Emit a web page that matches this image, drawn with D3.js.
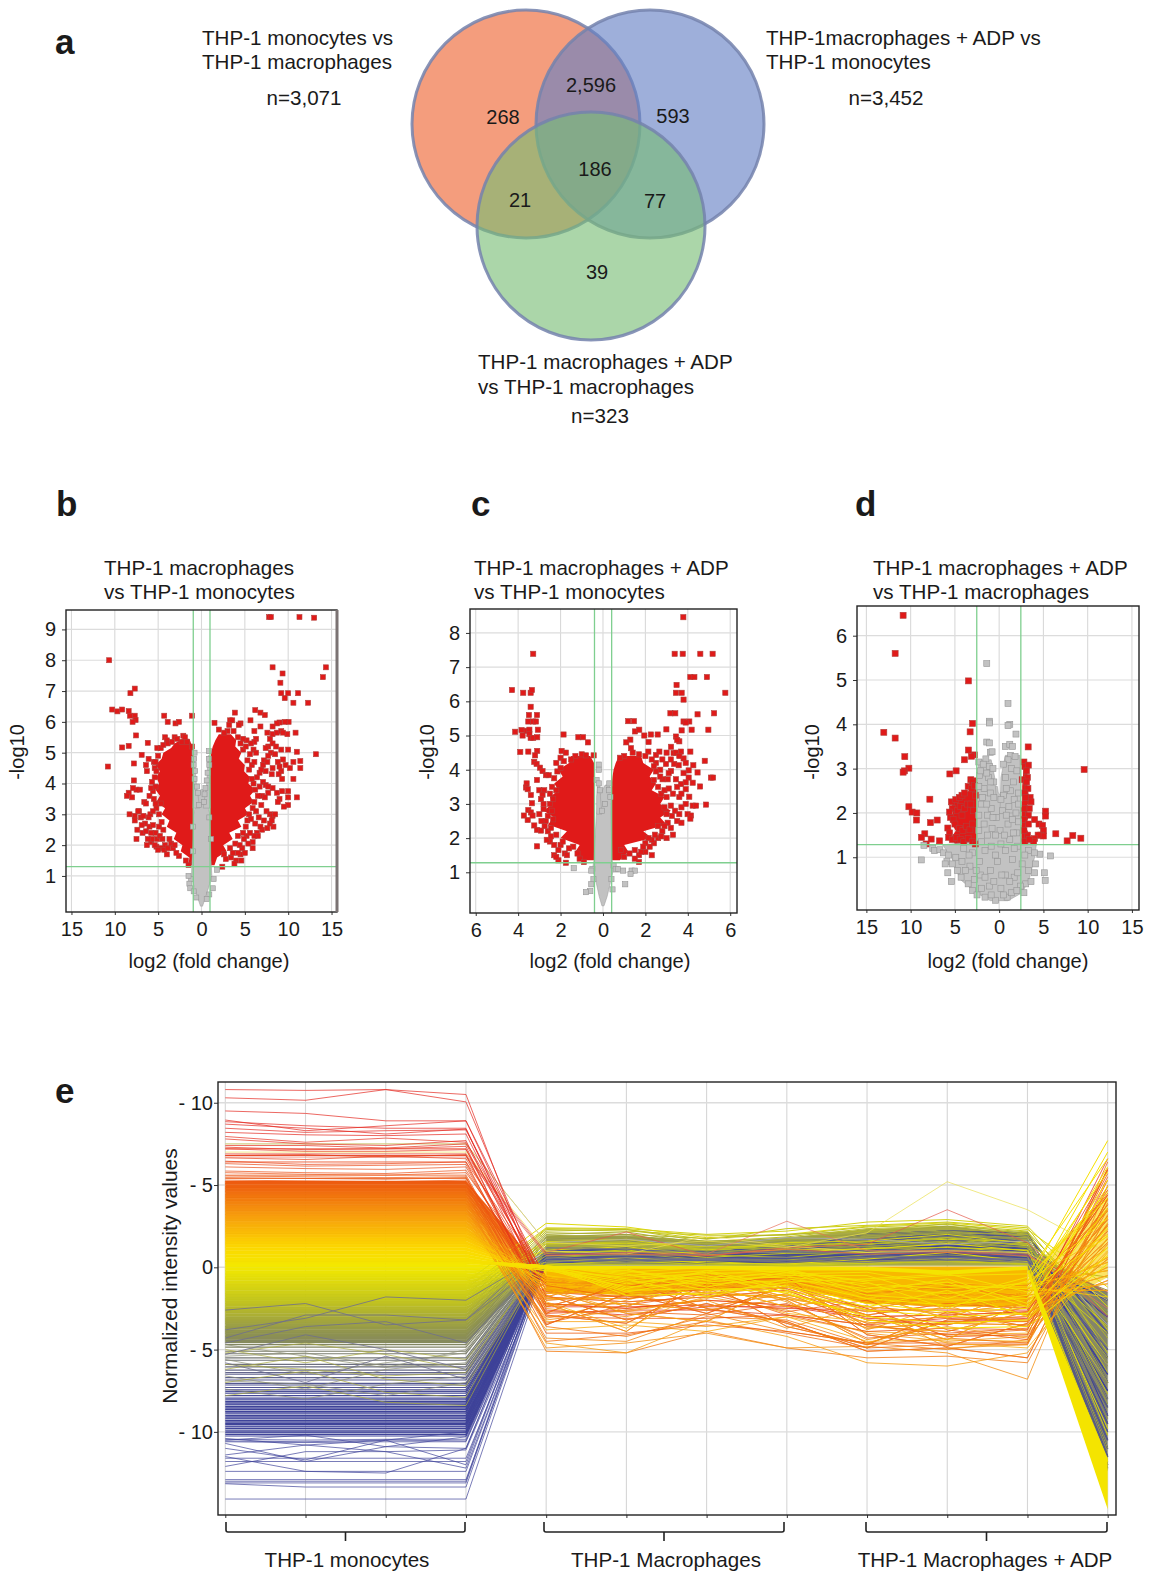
<!DOCTYPE html>
<html>
<head>
<meta charset="utf-8">
<script src="https://d3js.org/d3.v7.min.js"></script>
<style>
  html, body { margin: 0; background: #fff; }
  text { font-family: "Liberation Sans", Arial, sans-serif; fill: #1a1a1a; }
</style>
</head>
<body>
<svg width="1157" height="1572"></svg>
<script>
// ---- panel a, venn counts
const vennCircles = [
  { name: 'mono', cx: 526, cy: 124, fill: '#ef6f3f', opacity: 0.68 },
  { name: 'adp', cx: 650, cy: 124, fill: '#6680c4', opacity: 0.63 },
  { name: 'mac', cx: 591, cy: 226, fill: '#78bd74', opacity: 0.62 }
]
const vennCounts = [['268', 503, 117], ['2,596', 591, 85], ['593', 673, 116], ['186', 595, 169], ['21', 520, 200], ['77', 655, 201], ['39', 597, 272]]

// ---- panel b, [log2 fc, -log10 p]
const bRedPoints = [[7.8,9.4],[8,9.4],[11.3,9.4],[13,9.38],[-10.65,8],[8.2,7.77],[14.35,7.77],[9.35,7.57],[14,7.45],[9.1,7.27],[-7.7,7.08],[-8.2,6.93],[9.2,6.93],[10,6.93],[11.15,6.93],[9.6,6.77],[10.6,6.62],[12.3,6.62],[-10.3,6.4],[-9.7,6.34],[-9.15,6.4],[-8.4,6.35],[-8.25,6.2],[-7.7,6.2],[-7.6,6.06],[-7.95,6],[-4.3,6.2],[-1.1,6.2],[-3.9,6],[-3,5.95],[-2.6,6],[-7.55,5.56],[-6.2,5.32],[-9.15,5.17],[-8.4,5.22],[-6.9,4.93],[-6.1,4.8],[-10.8,4.55],[-7.8,4.65],[13.2,4.95],[11,5.03],[10,5.1],[10.85,5.65],[9.9,5.6],[10.05,6],[9.6,6],[6.2,6.38],[6.8,6.3],[7.3,6.22],[3.85,6.3],[5.65,6.05],[3.3,6.05],[3.55,6.05],[1.5,5.97],[9,5.98],[8.7,5.95],[8.2,5.85],[6.8,5.85],[6.1,5.7],[4.5,5.95],[4.3,5.9],[3.2,5.9],[2,5.75],[7.6,5.65],[8.2,5.6],[8.7,5.65],[9.2,5.7],[9.4,5.65],[7.9,5.45],[7.7,5.2],[7.4,5.15],[8.2,5.3],[8,5],[8.5,4.95],[6.3,5.45],[6.1,5.35],[5.7,5.3],[5.2,5.4],[4.8,5.45],[6,5.1],[6.3,5],[7.2,4.75],[7.1,4.6],[8.2,4.5],[8.8,4.7],[8.1,4.3],[7.4,4.4],[9.4,4.78],[9.7,4.6],[10.2,4.5],[9.2,4.4],[8.9,4.3],[9.3,4.15],[10.6,4.7],[11.4,4.73],[11.4,4.5],[10.6,4.15],[9.3,3.75],[9,3.5],[8.7,3.7],[10,3.75],[10,3.55],[11,3.55],[10,3.3],[9.5,3.25],[8.8,3.4],[8.2,3.85],[7.7,3.7],[7,3.6],[6.9,3.3],[7.5,3.1],[7.9,3],[8.2,2.95],[8.5,3],[8.3,2.6],[7.2,2.8],[6.6,2.9],[6.2,2.7],[6.4,2.4],[5.9,2.1],[5.9,1.9],[6.5,2.3],[5.2,2.3],[4.7,1.9],[4.5,1.7],[4.6,1.5],[4,1.5],[3.4,1.6],[3.8,1.4],[2.4,1.3],[2.6,1.7],[-1.5,1.35],[-1.8,1.5],[-2.6,1.65],[-4,1.7],[-4.2,2],[-4.7,1.9],[-5.2,1.95],[-5.8,2.1],[-6.3,2],[-7.5,2.2],[-7.4,2.5],[-7.7,2.95],[-8.3,3],[-7.2,3.1],[-6.8,2.4],[-6.5,2.7],[-6.1,2.9],[-5.7,2.2],[-5.3,2.4],[-4.9,2.6],[-4.6,2.75],[-6.6,3.4],[-6,3.6],[-5.5,3.5],[-5.2,3.2],[-7.3,3.1],[-7.1,3.8],[-7.5,3.8],[-8.4,3.7],[-8.6,3.6],[-8,3.55],[-7.8,4.1],[-7.9,3.85],[-6.4,3.35],[-6.3,4.4],[-6.4,4.6],[-5.7,4.05],[-5.5,4.7],[-5.4,4.5],[-5.1,5.15],[-4.2,5.5],[-4,5.4],[-3.1,5.5],[-2.1,5.55],[-1.9,5.5],[-1.1,5.2]]
const bRedExtra = [[-7.7,2.8],[-7,2.9],[-6.9,2.65],[-6.7,2.95],[-6.4,2.45],[-6.2,2.2],[-6,2.6],[-5.8,2.4],[-5.6,2.65],[-5.4,2],[-5.1,2.2],[-5,1.85],[-4.8,2.3],[-4.5,2.2],[-4.4,2.5],[-4.3,1.85],[-3.9,1.9],[-3.7,2.2],[-3.5,2.05],[-3.3,1.9],[-3.1,2],[-2.9,1.75],[-5.9,3],[-5.6,3.1],[-5.3,3.35],[-4.9,3],[-4.7,3.35],[-5.6,3.75],[-5.8,3.85],[-5.3,3.9],[-5.4,4.2],[-5.2,4.4],[-5.3,4.7],[-5,4.9],[-4.7,5.15],[-4.4,5.25],[-3.9,5.3],[-3.4,5.35],[-2.8,5.45],[-2.3,5.35],[-1.7,5.35],[4.4,2],[4.8,2.4],[5.1,2.6],[4.9,2.2],[5.3,2.8],[5.5,3],[5.7,2.85],[5.9,3.2],[6.1,3.4],[6.3,3.1],[6.5,3.6],[6.7,3.9],[6.2,3.8],[6,4],[5.8,4.15],[6.4,4.2],[6.7,4.35],[5.5,4.45],[5.8,4.6],[6.1,4.7],[5.3,4.75],[5.6,4.95],[4.8,5.1],[5.1,5.2],[4.5,5.3],[4.2,5.5],[3.7,5.7],[3,5.7],[2.6,5.65],[7.1,4.05],[7.4,3.95],[7.7,3.9],[7.3,3.55],[6.9,4.45],[7.6,2.55],[7,2.5],[6.8,2.6],[7.9,2.7],[8.1,2.8],[6.1,2.3],[5.6,2.4],[5.4,2.05],[5,1.75],[3.3,1.9],[3.6,1.75],[4.2,1.75],[3.9,2.05],[4.2,2.3],[2.8,1.55],[7.6,4.7],[7.7,4.9],[8.6,5.2],[9.2,5.1],[9,4.55]]
const bGreyPoints = [[-0.8,5],[-0.85,4.8],[-0.9,4.6],[-0.75,4.4],[-0.8,4.15],[0.85,5.05],[0.85,4.8],[0.9,4.6],[0.7,4.35],[0.6,4.1],[-0.5,3.9],[-0.4,3.7],[0.45,3.85],[0.35,3.65],[-1.2,0.9],[-1.4,0.75],[-1.3,0.6],[1.8,1.2],[1.4,0.9],[1.3,0.6],[-1.5,1],[-0.9,0.5],[0.9,0.4],[-0.6,0.3],[0.6,0.25],[-0.3,3.3],[0.3,3.4],[-1,1.8],[1.1,2.2],[-1,2.6],[0.9,2.9]]
const bRedBands = [
  [[1.35,-1.5,-0.95],[1.6,-1.4,-0.95],[1.8,-2.4,-0.95],[2,-2.2,-0.95],[2.2,-3.2,-0.95],[2.4,-2.9,-0.95],[2.6,-4,-0.95],[2.8,-3.7,-0.95],[3,-4.6,-0.95],[3.2,-4.2,-0.95],[3.4,-5.2,-0.95],[3.6,-4.8,-0.95],[3.8,-5.3,-0.95],[4,-4.9,-0.95],[4.2,-5.2,-0.95],[4.4,-4.8,-0.95],[4.6,-5.3,-0.95],[4.8,-4.6,-0.95],[5,-4.4,-0.95],[5.15,-3.5,-0.95],[5.3,-3.1,-1.2],[5.45,-2.2,-1.4]],
  [[1.35,1,1.5],[1.6,1,1.8],[1.8,1,2.9],[2,1,2.5],[2.2,1,3.6],[2.4,1,3.2],[2.6,1,4.6],[2.8,1,4.2],[3,1,5.4],[3.2,1,5],[3.4,1,6],[3.6,1,5.6],[3.8,1,6.2],[4,1,5.4],[4.2,1,5.6],[4.4,1,4.9],[4.6,1,5],[4.8,1.1,4.3],[5,1.1,4.6],[5.2,1.3,3.9],[5.4,1.6,4],[5.6,2,3.4]]
]
const bGreyBands = [
  [[0.02,-0.12,0.12],[0.3,-0.45,0.45],[0.6,-0.8,0.8],[1,-1.15,1.2],[1.5,-1.1,1.1],[2,-1,1.05],[3,-0.9,0.95],[3.5,-0.55,0.6],[3.8,-0.1,0.2]],
  [[3.2,-1,-0.2],[4,-0.95,-0.6],[4.8,-0.95,-0.8]],
  [[3.2,0.2,1],[4,0.6,0.95],[4.9,0.75,0.95]]
]

// ---- panel c
const cRedPoints = [[3.79,8.46],[-3.29,7.39],[3.38,7.39],[3.76,7.39],[4.59,7.39],[5.17,7.39],[4.12,6.71],[4.31,6.71],[4.9,6.71],[3.47,6.48],[-4.29,6.33],[-3.76,6.25],[-3.41,6.25],[-3.35,6.33],[3.44,6.25],[3.71,6.25],[5.77,6.25],[3.8,6.05],[-3.41,5.84],[3.18,5.65],[3.41,5.65],[4.46,5.62],[5.24,5.65],[-3.49,5.6],[-3.11,5.6],[-3.52,5.41],[-3.29,5.41],[-3.16,5.41],[1.19,5.42],[1.46,5.42],[3.8,5.41],[4.07,5.41],[3.9,5.38],[2.99,5.18],[4.18,5.17],[4.97,5.17],[3.71,5.15],[-4.14,5.11],[-3.84,5.16],[-3.6,5.14],[-3.47,5.17],[-3.07,5.17],[-3.79,5],[-3.47,5.04],[-3.41,4.93],[-3.29,4.93],[-3.1,4.95],[-1.86,5.03],[-1.16,4.95],[-0.94,4.95],[-0.71,4.8],[-3.9,4.52],[-3.52,4.53],[-3.1,4.55],[-3.2,4.42],[-3.24,4.23],[-3.13,4.17],[-2.97,4.06],[-2.85,3.96],[-2.69,3.84],[-2.56,3.84],[-3.11,3.7],[-3.6,3.6],[-3.63,3.48],[-3.55,3.43],[-3.4,3.26],[-3,3.4],[-2.77,3.4],[-2.85,3.27],[-2.92,3.14],[-2.8,3],[-3.35,3.02],[-3.52,2.82],[-3.4,2.75],[-3.73,2.66],[-3.55,2.53],[-3.32,2.66],[-3.24,2.37],[-3.11,2.24],[-2.92,2.22],[-3.11,1.76],[1.29,4.88],[1.51,5.12],[1.71,5.17],[1.95,5],[2.15,4.81],[2.26,5.03],[2.58,5.03],[1.32,4.63],[2.14,4.53],[2.5,4.43],[2.66,4.53],[3.21,4.67],[3.33,4.49],[3.44,4.5],[3.68,4.53],[4.12,4.53],[3.44,4.97],[3.6,4.83],[3.5,4.87],[3.8,4.33],[4.26,4.13],[3.9,4.2],[4.8,4.26],[2.97,4.17],[3.36,4.17],[3.57,4.13],[3.21,3.96],[4.04,3.98],[4.46,3.92],[4.04,3.77],[5.09,3.77],[5.19,3.77],[4.23,3.62],[4.58,3.51],[3.9,3.63],[3.68,3.58],[3.44,3.72],[3.05,3.72],[2.81,3.72],[3.9,3.43],[4.07,3.21],[4.23,2.95],[4.39,2.95],[4.86,2.98],[3.99,2.7],[4.15,2.66],[4.12,2.57],[2.7,4],[2.5,4.2],[3.3,3.3],[3.6,3.2],[3.7,2.9],[3.4,2.8],[3.5,2.5],[3.7,2.45],[3.2,2.3],[3.3,2.1],[3,2],[2.8,2.2],[2.6,2],[2.4,1.85],[2.2,1.75],[2.3,1.5],[2,1.6],[1.7,1.5],[1.7,1.3],[1.5,1.4],[3,3.2],[2.9,2.9],[-2.7,2.5],[-2.5,1.9],[-2.3,1.8],[-2.3,1.5],[-2.1,1.35],[-1.8,1.55],[-1.7,1.5],[-1.75,1.28],[-1.2,1.55],[-1.1,1.4],[-0.9,1.3],[-1.4,1.75],[-2.6,2.2],[-2.5,3],[-2.4,2.8],[-1.95,4.55],[-1.75,4.5],[-1.3,4.4],[-1,4.45],[-0.8,4.42],[-0.44,4.42],[-2.2,4.2],[-2,4.35],[1.1,4.8],[1,4.4],[0.8,4.35]]
const cRedExtra = [[-3,2.7],[-2.9,2.5],[-2.8,2.85],[-2.75,2.35],[-2.6,2.65],[-2.45,2.3],[-2.35,2.55],[-2.65,1.95],[-2.45,2.05],[-2.2,2.1],[-2.1,1.65],[-2,1.8],[-1.9,1.9],[-2.2,1.45],[-1.6,1.7],[-2.5,3.3],[-2.4,3.5],[-2.35,3.15],[-2.3,3.75],[-2.2,3.4],[-2.15,3.95],[-2,4.05],[-1.85,4.25],[-1.5,4.3],[2.5,3.95],[2.7,3.8],[2.4,3.7],[2.6,3.5],[2.75,3.3],[2.9,3.4],[3.1,3.45],[3.2,2.95],[3.25,2.65],[3.05,2.45],[3,2.7],[2.9,2.35],[2.75,2.05],[2.6,2.35],[2.45,2.1],[2.3,1.95],[2.15,2],[2,1.85],[1.9,1.75],[1.8,1.6],[1.5,1.65],[1.25,1.55],[1,1.45],[0.85,1.65],[2.4,4.1],[2.3,4.3],[2,4.4],[1.7,4.45],[1.4,4.5],[3,4.5],[3.2,4.3],[2.8,4.3],[3.6,4.4],[3.1,3.9],[3.5,3.5],[3.8,3.9],[3.7,3.3],[3.9,3],[3.6,2.7]]
const cGreyPoints = [[-0.2,4.15],[-0.2,4],[-0.3,3.7],[-0.2,3.6],[-0.15,3.4],[0.3,3.6],[0.28,3.4],[0.35,3.2],[-0.5,1.1],[-0.55,1.05],[-0.6,0.45],[-0.55,0.65],[-0.45,0.8],[0.5,1.2],[0.6,1.1],[0.7,1.1],[0.95,1.05],[1.35,1.05],[1.5,1.05],[1.3,0.95],[1.05,0.65],[-1.38,1.12],[-0.8,0.42],[0.45,0.5],[0.4,0.8],[-0.05,2.8],[0.1,3]]
const cRedBands = [
  [[1.35,-0.95,-0.42],[1.6,-1.3,-0.42],[1.8,-1.1,-0.42],[2,-2,-0.42],[2.2,-1.7,-0.42],[2.4,-2.6,-0.42],[2.6,-2.3,-0.42],[2.8,-2.8,-0.42],[3,-2.4,-0.42],[3.2,-2.5,-0.42],[3.4,-2.1,-0.42],[3.6,-2.3,-0.42],[3.8,-1.9,-0.42],[4,-2.1,-0.42],[4.2,-1.6,-0.42],[4.4,-1.5,-0.6]],
  [[1.35,0.42,0.8],[1.6,0.42,1.2],[1.8,0.42,1],[2,0.42,2.3],[2.2,0.42,1.9],[2.4,0.42,3],[2.6,0.42,2.7],[2.8,0.42,3.2],[3,0.42,2.7],[3.2,0.42,2.9],[3.4,0.42,2.3],[3.6,0.42,2.5],[3.8,0.45,2.2],[4,0.5,2.4],[4.2,0.6,1.9],[4.4,0.75,1.8]]
]
const cGreyBands = [
  [[0.02,-0.05,0.05],[0.3,-0.18,0.2],[0.7,-0.32,0.35],[1.1,-0.5,0.5],[1.35,-0.42,0.43],[2,-0.38,0.4],[2.7,-0.3,0.38],[3.2,-0.2,0.36],[3.55,0.1,0.32]],
  [[2.7,-0.3,-0.05],[3.2,-0.3,-0.12],[3.6,-0.25,-0.15]]
]

// ---- panel d
const dRedPoints = [[-10.85,6.46],[-11.75,5.6],[-3.47,4.98],[-3.01,4.02],[-3.28,3.83],[-13.03,3.82],[-11.75,3.69],[-3.47,3.42],[3.28,3.49],[-10.66,3.27],[-2.79,3.31],[-3.13,3.28],[-3.92,3.2],[-10.2,3.01],[-10.7,2.95],[-10.85,2.92],[-4.86,2.95],[-5.57,2.88],[9.6,2.98],[-7.83,2.31],[-10.2,2.14],[-9.83,2.02],[-9.3,2],[-9.34,1.84],[-7,1.84],[-7.76,1.78],[-8.4,1.53],[-8.78,1.45],[-7.68,1.41],[-6.74,1.37],[-8.25,1.3],[6.4,1.53],[8.32,1.49],[9.23,1.43],[7.68,1.37],[5.24,2.04],[5.24,1.93],[-5.4,2.25],[-5.3,2.1],[-5.6,2.02],[-5.5,1.9],[-5.2,1.85],[-5.8,1.66],[-5.6,1.55],[-5.7,1.45],[-5.3,1.4],[-5,1.75],[-4.9,2.3],[-4.5,2.35],[-4.2,2.4],[-3.9,2.45],[-3.5,2.6],[-3.2,2.75],[-3,2.7],[-3.1,2.55],[-2.8,2.62],[-2.7,2.4],[-4.7,2.05],[-4.4,2.15],[-4.2,1.95],[-3.9,2.1],[-3.6,2.2],[-3.2,2.2],[-2.9,2.05],[-4.5,1.65],[-4.1,1.6],[-3.7,1.7],[-3.3,1.62],[-3,1.75],[-4.8,1.45],[-4.4,1.4],[-4,1.35],[-3.5,1.42],[-3,1.35],[-2.7,1.3],[2.8,3.15],[2.9,3.05],[3.3,3.08],[3.1,2.95],[3.2,2.8],[2.6,2.75],[3.1,2.7],[3.25,2.55],[2.9,2.45],[3.5,2.35],[3.6,2.25],[3,2.35],[3.4,2.1],[2.8,2.1],[3.3,1.95],[2.8,1.85],[3.3,1.75],[4,1.85],[4.5,1.75],[4.9,1.72],[5,1.6],[4.7,1.5],[5,1.48],[4.4,1.5],[4,1.42],[3.9,1.35],[3.2,1.5],[2.8,1.6],[2.9,1.35],[3.4,1.4]]
const dGreyPoints = [[-1.4,5.37],[1,4.47],[-1.1,4.07],[-1.1,4.03],[1.2,4],[1,3.97],[1.9,3.78],[-1.4,3.6],[-1.1,3.58],[0.7,3.5],[1.2,3.55],[1.5,3.5],[-1,3.37],[-0.8,3.38],[1.3,3.3],[1.8,3.27],[1,3.2],[-1.5,3.22],[-2.3,3.15],[-1.8,3.1],[-1.1,3.05],[-0.7,3],[0.5,3.1],[1.4,3],[2,2.95],[-2.2,2.85],[-1.2,2.8],[-0.6,2.7],[0.7,2.8],[1.6,2.7],[-1.7,2.55],[-1,2.45],[0.5,2.4],[1.3,2.5],[2.2,2.45],[-2,2.2],[-0.9,2.1],[-0.3,1.9],[0.4,2.05],[1.1,2.15],[1.9,2],[-1.7,1.75],[-0.8,1.65],[0.1,1.6],[1,1.75],[2,1.55],[-2,1.35],[-0.9,1.25],[0.2,1.3],[1.2,1.4],[2.1,1.25],[-8.5,1.27],[-8.8,0.94],[-7.5,1.2],[-7.3,1.15],[-6.7,1.17],[-6.3,1.1],[-5.7,1.05],[-5.9,0.9],[-6.1,0.85],[-5.8,0.65],[-5.4,0.45],[-5.3,0.85],[-4.9,1],[-4.7,0.7],[-4.3,0.55],[-4.2,0.9],[-3.5,0.4],[-3.3,0.8],[-3,0.25],[-2.5,0.15],[-2.1,0.6],[-1.6,0.1],[-1.1,0.35],[-0.4,0.03],[0.2,0.3],[0.9,0.1],[1.7,0.55],[2.8,0.2],[3,0.4],[3.3,0.7],[3.6,0.45],[4,0.65],[4.1,0.85],[4.6,1.07],[4,1.1],[3.3,1.15],[5.1,0.65],[5.2,0.48],[5.8,1.03],[-4,1.2],[-3,1.1],[-2.2,0.9],[-1,0.7],[-0.2,0.9],[0.7,0.6],[1.5,0.95],[2.6,0.85],[2.9,1.05],[-2.3,2.6],[-2.1,2.95],[-1.4,2.9],[-0.95,2.7],[-1.9,2.35],[-1.4,2.2],[-0.6,2.35],[-2.3,1.95],[-1.3,1.95],[-0.7,1.9],[0.2,2.3],[0.8,2.55],[1.7,2.3],[2.2,2.2],[0.8,1.95],[1.5,1.85],[2.2,1.8],[-1.3,1.5],[-0.4,1.5],[0.6,1.5],[1.6,1.55],[-2.3,1.6],[-1.6,1.15],[-0.4,1.05],[0.7,1.15],[1.7,1.2],[-3.4,1.05],[-2.6,0.7],[-1.6,0.55],[-0.6,0.45],[0.3,0.6],[1.2,0.45],[2.1,0.65],[2.4,0.35],[-3.8,0.7],[-2.8,0.5],[-2,0.3],[-0.9,0.15],[0.5,0.15],[1.4,0.2],[2,0.25]]
const dRedBands = [
  [[1.3,-5,-2.5],[1.45,-5.4,-2.5],[1.6,-4.9,-2.5],[1.8,-5.5,-2.5],[2,-5.2,-2.5],[2.15,-5.4,-2.5],[2.3,-4.9,-2.5],[2.4,-4.3,-2.5],[2.5,-3.4,-2.5],[2.65,-3.1,-2.5],[2.8,-2.95,-2.5]],
  [[1.3,2.5,3.2],[1.5,2.5,3.4],[1.7,2.5,3],[1.9,2.5,3.3],[2.1,2.55,3.1],[2.3,2.6,3.4],[2.6,2.6,3.2],[3,2.75,3.2]]
]
const dGreyBands = [
  [[0.02,-1,1],[0.2,-2.6,2.6],[0.5,-4.4,3.4],[1,-5.4,4],[1.28,-6.4,4.2],[1.35,-2.5,2.45],[2,-2.5,2.45],[2.45,-2.5,-0.1],[2.6,-2.4,-0.2]],
  [[2.4,-2.45,-0.35],[2.8,-2.45,-0.5],[3.2,-2.3,-0.9]],
  [[2,0.1,2.45],[2.8,0.2,2.4],[3.3,0.7,2.35]]
]

// ---- panel e, normalised intensity profiles
const sampleNames = ['m1', 'm2', 'm3', 'm4', 'a1', 'a2', 'a3', 'a4', 'd1', 'd2', 'd3', 'd4']
const denseLevels = [5.25,5.05,4.8,4.6,4.4,4.2,4,3.8,3.6,3.4,3.2,3,2.8,2.6,2.4,2.2,2,1.8,1.6,1.4,1.2,1,0.8,0.6,0.4,0.2,0,-0.2,-0.4,-0.6,-0.8,-1,-1.2,-1.4,-1.6,-1.8,-2,-2.2,-2.4,-2.6,-2.8,-3,-3.2,-3.4,-3.6,-3.8,-4,-4.2,-4.4,-4.6]
const denseEnds = [-0.5,-0.6,-0.7,-0.8,-1,-1,-1,-1,-1,-1,-0.9,-0.9,-0.8,-0.8,-0.7,-0.7,-0.6,-0.5,-0.5,-0.4,-0.3,-0.3,-0.2,-0.2,-0.1,-0.1,0,0,0.1,0.1,0.1,0.1,0.2,0.2,0.2,0.3,0.3,0.3,0.3,0.3,0.4,0.4,0.4,0.4,0.4,0.5,0.5,0.5,0.5,0.5]
const topRows = [[10.8,10.75,10.8,10.5],[10.3,10.15,10.8,10.05],[9.5,9.35,8.9,8.9],[8.95,8.3,8.6,8.9],[8.85,8.6,8.45,8.45],[8.7,8.45,8.1,8.4],[8.45,8.2,8.3,8.35],[8.2,8.05,8,8.1],[7.95,7.6,7.85,7.6],[7.8,7.5,7.4,7.7],[7.4,7.4,7.25,7.5],[7.3,7.15,7.2,7.35],[7.2,7.05,7.05,7.15],[6.8,6.85,6.7,6.85],[6.65,6.55,6.75,6.6],[6.45,6.25,6.3,6.4],[6.3,6.15,6.2,6.25],[6.1,6,5.95,6.1],[5.85,5.75,5.7,5.9],[5.75,5.65,5.6,5.75],[5.55,5.5,5.45,5.5],[5.45,5.4,5.35,5.45],[5.3,5.25,5.2,5.3]]
const blueLevels = [-4.7,-4.85,-5.1,-5.25,-5.5,-5.65,-5.9,-6.05,-6.25,-6.4,-6.5,-6.7,-6.85,-7.05,-7.15,-7.3,-7.45,-7.55,-7.65,-7.8,-7.95,-8.05,-8.15,-8.2,-8.3,-8.35,-8.45,-8.5,-8.6,-8.65,-8.75,-8.8,-8.9,-9,-9.05,-9.15,-9.2,-9.3,-9.35,-9.45,-9.5,-9.55,-9.65,-9.7,-9.8,-9.9,-10,-10.05,-10.15,-10.25]
const speckleRows = [[-4.7,-5.4,-6.1,-5],[-5.2,-4.6,-5.3,-6.2],[-5.6,-6.5,-5.8,-5.2],[-6.2,-5.4,-6.8,-7.2],[-6.6,-7.4,-6.2,-5.8],[-7,-6.3,-7.6,-7.9],[-7.4,-8,-7.1,-6.6],[-5,-5.8,-5,-5.6],[-5.4,-5.2,-6,-5.9],[-7.8,-7.2,-8.2,-8.4],[-6.9,-7.1,-7.8,-7],[-5.9,-6.2,-6.6,-6.4]]
const bottomRows = [[-10.4,-10.8,-10.5,-10],[-10.5,-10.2,-10.9,-11],[-10.7,-11.8,-10.9,-10.3],[-11.4,-10.8,-11.2,-11.1],[-11,-11.7,-10.5,-12],[-11.5,-12.4,-12.5,-11],[-12.1,-11.2,-11.2,-12.2],[-11.6,-11.6,-11.6,-11.6],[-11.8,-11.8,-11.8,-11.8],[-12.4,-12.4,-12.4,-12.4],[-12.9,-12.9,-12.9,-12.9],[-13,-13,-13,-13],[-13.1,-13.1,-13.1,-13.1],[-13.15,-13.35,-13.35,-13.35],[-14.08,-14.08,-14.08,-14.08],[-10.45,-10.5,-10.45,-10.45],[-10.55,-10.6,-10.5,-10.55],[-10.6,-10.65,-10.6,-10.6]]
const wobbleRows = [[-2.6,-2.2,-3.5,-3.2,1.2,1.1,0.9,0.9,1,1.1,0.9,-3],[-4.3,-2.9,-2.9,-3.2,0.5,0.6,0.5,0.4,0.3,0.6,0.5,-5],[-3.8,-3.1,-1.8,-2,0.9,0.7,0.8,1,0.8,1,0.7,-7],[-4.6,-3.6,-3.3,-4.6,0.6,0.4,0.5,0.3,0.7,0.6,0.4,-8],[-5.3,-4.1,-5,-6.2,0.3,0.5,0.4,0.4,0.6,0.5,0.3,-6],[-5.8,-7,-5.4,-6.8,0.4,0.3,0.5,0.6,0.4,0.4,0.5,-9]]
const coolRows = [
  [1.1,1.2,0.9,1.3,1.7,2,1.9,-4],[1.05,1.15,0.8,1.2,2,2.2,2.1,-7],[1,1.1,0.95,1.15,1.6,1.9,1.6,-5.5],[0.95,1.05,0.75,1,1.5,1.7,1.5,-9],[0.9,1,0.7,1.05,1.3,1.6,1.25,-10],[0.85,0.9,0.6,0.95,1.25,1.45,1.1,-12],
  [0.8,0.85,0.7,0.85,1.1,1.3,1.15,-11],[0.75,0.8,0.65,0.8,1,1.2,0.95,-8],[0.7,0.75,0.55,0.75,0.95,1.15,1,-6.5],[0.65,0.7,0.5,0.7,0.9,1,0.85,-11.5],[0.6,0.65,0.55,0.65,0.85,0.9,0.8,-9.5],[0.55,0.6,0.45,0.6,0.8,0.85,0.7,-3],
  [0.5,0.55,0.4,0.55,0.7,0.8,0.65,-10.5],[0.45,0.5,0.35,0.5,0.65,0.7,0.6,-7.5],[0.4,0.45,0.35,0.45,0.6,0.65,0.55,-5],[0.35,0.4,0.3,0.4,0.5,0.55,0.5,-12.2],[0.3,0.35,0.25,0.35,0.45,0.5,0.4,-2],[0.25,0.3,0.2,0.3,0.4,0.45,0.35,-8.5]
]
const oliveLevels = [-0.9,-1.3,-1.7,-2,-2.3,-2.6,-2.9,-3.2,-3.4,-3.6,-3.9,-4.2,-1.1,-1.5,-2.1,-2.7,-3.1,-3.7,-0.7,-1,-1.9,-2.5,-3.3,-4,-0.6,-1.2,-1.6,-2.2]
const oliveRows = [
  [2.67,2.45,1.8,2,2.5,2.7,2.3,-1.2],[2.4,2.35,2,2.2,2.75,2.9,2.5,-2.4],[2.35,2.3,1.7,2.35,2.55,2.75,2.4,-3.8],[2.3,2.2,1.95,1.95,2.45,2.6,2.2,-5.2],[2.2,2.3,1.55,1.85,2.35,2.5,2.15,-2.9],[2.1,2,1.75,2,2.2,2.65,2,-6.4],
  [2,2.15,1.4,1.75,2.3,2.35,2.1,-4.3],[1.95,1.85,1.6,1.65,2.1,2.5,1.85,-7],[1.85,2,1.3,1.8,2,2.2,1.9,-3.3],[1.8,1.75,1.5,1.45,1.95,2.05,1.7,-8.3],[1.7,1.85,1.2,1.6,1.85,2.15,1.6,-5.8],[1.6,1.6,1.35,1.35,1.75,1.85,1.75,-9.2],
  [1.55,1.7,1.05,1.5,1.6,2,1.45,-1.8],[1.45,1.45,1.25,1.25,1.55,1.7,1.55,-10.2],[1.4,1.55,1,1.4,1.4,1.8,1.3,-7.7],[1.3,1.3,1.15,1.15,1.45,1.55,1.4,-4.8],[1.25,1.4,0.85,1.25,1.25,1.6,1.2,-11],[1.15,1.15,1,1,1.3,1.4,1.25,-2.7],
  [1.05,1.25,0.75,1.1,1.1,1.45,1,-6],[0.95,0.95,0.9,0.9,1.15,1.2,1.05,-9.8],[0.85,1.05,0.6,0.85,0.9,1.25,0.85,-3.6],[0.7,0.75,0.75,0.6,1,1,0.9,-5.5],[0.55,0.85,0.45,0.45,0.75,1.05,0.65,-8],[0.4,0.5,0.55,0.3,0.6,0.75,0.5,-1.4],
  [0.3,0.6,0.25,0.2,0.5,0.9,0.35,-11.8],[0.2,0.3,0.35,0.15,0.35,0.55,0.3,-7],[0.15,0.4,0.15,0.1,0.25,0.35,0.2,-4],[0.1,0.2,0.2,0.05,0.15,0.45,0.15,-0.6]
]
const warmRows = [
  [4.2,-5.1,-5.2,-3.9,-4.9,-5.5,-5.4,-5.8,3.2],[3.6,-4.9,-4.6,-4,-4.9,-4.8,-5.2,-6.8,5],[3.2,-4.6,-5.2,-3.2,-4.2,-5.8,-6,-5.2,1.8],[4.6,-4.5,-4.1,-3.3,-4,-4.9,-4.7,-4.7,6.4],[3.9,-4.3,-4.5,-2.8,-3.9,-4.6,-5,-4.4,4.1],[5.1,-4,-4,-3.5,-3.9,-4.6,-4.6,-4.6,5.5],
  [2.8,-3.8,-3.5,-3.9,-3,-4.5,-4.4,-4.5,2.7],[4.4,-3.6,-4.2,-3,-3.2,-4.7,-4.3,-4.6,3.5],[3,-3.3,-3.3,-3.6,-3,-3.9,-4.1,-4,1],[5.6,-3,-3.1,-3.1,-2.9,-3.9,-3.7,-3.8,5.7],[6.4,-2.8,-2.6,-2.6,-2.9,-3.5,-3.1,-3.3,4.9],[7.2,-2.6,-2.9,-2.4,-2.4,-3.1,-3.3,-3.1,6.6],
  [4.9,-2.7,-2.7,-2.9,-2.2,-4.3,-4,-3.7,2.2],[3.4,-2.5,-3,-1.8,-2.6,-4,-4.5,-4.2,3],[2.6,-2.3,-2.2,-2.6,-1.9,-3.7,-3.4,-3.5,0.5],[5.4,-2.2,-2.5,-2,-2.3,-3,-2.9,-2.7,4.4],[6.8,-2.4,-2.4,-2.3,-2.5,-2.6,-2.6,-2.6,5.9],[3.1,-2,-1.7,-2.4,-1.6,-3.4,-3,-3.2,1.5],
  [2.4,-1.9,-1.9,-1.5,-1.9,-2.7,-2.5,-2.9,2.5],[4,-1.8,-2.1,-1.8,-1.4,-3.2,-3.5,-2.4,3.8],[2.2,-1.6,-1.4,-1.7,-1.7,-2.4,-2.8,-2.2,0],[3.7,-1.5,-1.8,-1.2,-1.3,-2.9,-2.2,-2.5,2.9],[1.9,-1.4,-1.2,-1.4,-1.2,-2.1,-2.4,-1.9,-0.5],[2.9,-1.3,-1.5,-0.9,-1.5,-1.8,-2,-2.2,1.2],
  [1.7,-1.2,-0.9,-1.3,-0.9,-2.2,-1.7,-1.7,-1],[2.1,-1.1,-1.3,-0.8,-1,-1.5,-1.9,-1.5,1.9],[1.5,-1,-0.8,-1,-0.7,-1.2,-1.4,-1.3,0.3],[3.3,-0.9,-1,-0.6,-0.8,-1.6,-1.2,-1.8,4.5],[1.3,-0.8,-0.6,-0.7,-0.6,-1,-1.3,-1,-0.2],[2.5,-0.7,-0.8,-0.5,-0.5,-1.3,-1,-1.1,3.4],
  [3.5,-3.1,-2,-0.7,-2.1,-4.4,-3.6,-4.3,1.4],[4.1,-2.9,-3.4,-1,-0.6,-4.1,-4.8,-3.4,2.6],[2.7,-2.1,-3.7,-1.4,-2.8,-3.3,-4.6,-4.9,0.9],[3.8,-1.7,-3.2,-2.2,-3.4,-4.9,-3.2,-3,4.7],[4.7,-3.5,-1.6,-2.8,-1.1,-2.5,-4.2,-4.1,6],[2.3,-1.4,-2.8,-3.3,-0.9,-3.6,-3.9,-2.7,-0.8],
  [3.9,-2.4,-1.1,-0.9,-3.6,-4.7,-2.7,-3.6,3.6],[5.2,-3.4,-2.3,-1.6,-2.7,-2,-3.8,-4.4,5.3],[2,-0.9,-2.4,-0.6,-1.8,-2.9,-4.4,-2,0.6],[3.2,-1.3,-2.7,-1.9,-0.7,-3.8,-2.3,-3.9,2.3],[1.8,-0.6,-1.7,-1.1,-2.4,-1.7,-3.1,-1.4,-1.4],[4.3,-2.8,-0.8,-2.5,-3.3,-5.1,-4.9,-5.5,4.2],
  [2.6,-1.8,-0.5,-1.6,-1.2,-2.6,-1.6,-2.9,1.7],[3,-2.2,-3.9,-0.4,-2,-4.6,-3.3,-3.3,3.1],[1.4,-0.5,-1.1,-0.3,-0.5,-1.9,-0.9,-1.2,-1.8],[4.8,-1.1,-1.9,-1.3,-2.9,-3.5,-4.1,-3.8,5.9],[2.2,-0.7,-0.4,-1.2,-0.3,-1.4,-2.1,-0.8,2],[3.6,-3.2,-2.6,-2,-3.7,-2.3,-4.9,-4.7,3.9]
]
const yellowRows = [[0.1,-0.5,-0.2,-0.1,-1.2,-1.6,-0.9,7.7],[0,-0.3,0,-0.3,-0.8,-0.5,-0.4,6.6],[-0.1,-0.9,-0.6,-0.4,-0.3,-1.1,-1.3,5.8],[0.05,-0.2,-1,-0.8,-1.9,-2.3,-1.7,7],[-0.2,-0.6,-0.4,-0.2,-1.5,-0.7,-2.2,4.9],[0,-1.2,-0.9,-0.5,-0.5,-1.9,-0.6,4.2],[0.1,-0.4,-1.4,-1.1,-2.2,-2.7,-2.5,3.6],[-0.1,-1.5,-0.7,-0.6,-1,-1.3,-1,3],[0.05,-0.8,-0.3,-1.4,-2.6,-3,-2.8,2.4],[0.1,-1.7,-1.6,-0.9,-0.7,-0.4,-1.5,1.9],[0,-0.1,-1.2,-0.3,-1.7,-2,-1.9,6.1],[-0.2,-1,-0.5,-1.6,-3,-3.4,-3.2,1.2],[0,-0.7,-1.8,-0.7,-1.3,-0.9,-2.4,5.3],[0.1,-1.3,-0.2,-1.2,-2.4,-1.4,-3,0.7],[-0.05,-0.2,-0.8,-0.2,-0.9,-2.5,-0.8,4.6],[0,-1.4,-1.3,-1.5,-3.2,-3.7,-3.6,0.2]]
const spikeRows = [[1.5,1.7,1.3,1.8,1.7,1.4,1.6,-3.5],[0.9,2.15,0.7,1.1,0.8,0.9,0.7,-1.5],[1,0.8,1.9,1.3,0.9,1,0.9,-2],[0.7,0.9,0.8,2.8,1,1,0.8,-2.5],[0.8,0.8,0.7,1.2,1.4,3.5,1.5,-3],[1.5,1.3,1.6,1.2,2.1,5.2,3.5,0.9]]
const spikeColours = ['#a8a8c8', '#e4584a', '#f2df5c', '#e8705c', '#e4584a', '#eadf50']
const tailYellowBand = [[10, 0, -0.3], [11, -11.6, -14.7]]
const tailMixBand = [[10, 1.1, -0.2], [11, -1.5, -12.4]]
const tailUpperBand = [[10, -0.3, -3.2], [11, 4.4, -0.6]]
const bandCool = [[4,1.9,0.1],[5,1.95,0.1],[6,1.6,0.1],[7,1.8,0.1],[8,2.3,0.1],[9,2.5,0.1],[10,2.05,0.1]]
const bandWarm = [[4,0.05,-1.5],[5,0.05,-1.7],[6,0.05,-1.4],[7,0.05,-1.1],[8,0.05,-2.2],[9,0.05,-2.4],[10,0.05,-2.4]]
const bandYellow = [[4,0.08,-0.1],[5,0.08,-0.08],[6,0.08,-0.12],[7,0.05,-0.2],[8,0.04,-0.2],[9,-0.2,-0.45],[10,0.06,-0.15]]

const yTicksE = [10, 5, 0, -5, -10]
const groupLabels = [['THP-1 monocytes', 226, 465, 347], ['THP-1 Macrophages', 544, 784, 666], ['THP-1 Macrophages + ADP', 866, 1107, 985]]

const svg = d3.select('svg')
const redFill = '#e01a19', redEdge = '#b3403c', greyFill = '#c2c2c2', greyEdge = '#969696'

function label(txt, x, y, size, opts = {}) {
  return svg.append('text').attr('x', x).attr('y', y).attr('font-size', size)
    .attr('text-anchor', opts.anchor || 'start').attr('font-weight', opts.weight || 'normal')
    .attr('transform', opts.rotate ? `rotate(-90, ${x}, ${y})` : null).text(txt)
}

// letters
label('a', 55, 54, 35, { weight: 'bold' })
label('b', 56, 516, 35, { weight: 'bold' })
label('c', 471, 516, 35, { weight: 'bold' })
label('d', 855, 516, 35, { weight: 'bold' })
label('e', 55, 1103, 35, { weight: 'bold' })

// ---- venn
svg.append('g').selectAll('ellipse').data(vennCircles).join('ellipse')
  .attr('cx', d => d.cx).attr('cy', d => d.cy).attr('rx', 114).attr('ry', 114)
  .attr('fill', d => d.fill).attr('fill-opacity', d => d.opacity)
  .attr('stroke', '#7483ad').attr('stroke-width', 3).attr('stroke-opacity', 0.85)
vennCounts.forEach(d => label(d[0], d[1], d[2] + 7, 20, { anchor: 'middle' }))
label('THP-1 monocytes vs', 202, 45, 20.6)
label('THP-1 macrophages', 202, 69, 20.6)
label('n=3,071', 304, 105, 20.6, { anchor: 'middle' })
label('THP-1macrophages + ADP vs', 766, 45, 20.6)
label('THP-1 monocytes', 766, 69, 20.6)
label('n=3,452', 886, 105, 20.6, { anchor: 'middle' })
label('THP-1 macrophages + ADP', 478, 369, 20.6)
label('vs THP-1 macrophages', 478, 394, 20.6)
label('n=323', 600, 423, 20.6, { anchor: 'middle' })

// ---- volcano panels
function volcano(cfg) {
  const x = d3.scaleLinear().domain(cfg.xDomain).range([cfg.left, cfg.right])
  const y = d3.scaleLinear().domain(cfg.yDomain).range([cfg.bottom, cfg.top])
  const g = svg.append('g')

  g.selectAll('.gx').data(cfg.xTicks).join('line')
    .attr('x1', d => x(d)).attr('x2', d => x(d)).attr('y1', cfg.top).attr('y2', cfg.bottom)
    .attr('stroke', '#d9d9d9').attr('stroke-width', 1.1)
  g.selectAll('.gy').data(cfg.yTicks).join('line')
    .attr('x1', cfg.left).attr('x2', cfg.right).attr('y1', d => y(d)).attr('y2', d => y(d))
    .attr('stroke', '#dcdcdc').attr('stroke-width', 1.2)

  const band = d3.area().y(d => y(d[0])).x0(d => x(d[1])).x1(d => x(d[2]))
  g.selectAll('.rb').data(cfg.redBands).join('path').attr('d', band).attr('fill', redFill)
  g.selectAll('.gb').data(cfg.greyBands).join('path').attr('d', band).attr('fill', greyFill).attr('stroke', greyEdge).attr('stroke-width', 0.5)

  const s = cfg.marker
  const squares = (data, fill, edge) => g.append('g').selectAll('rect').data(data).join('rect')
    .attr('x', d => x(d[0]) - s / 2).attr('y', d => y(d[1]) - s / 2).attr('width', s).attr('height', s)
    .attr('fill', fill).attr('stroke', edge).attr('stroke-width', 0.6)
  squares(cfg.red, redFill, redEdge)
  squares(cfg.grey, greyFill, greyEdge)

  // threshold lines
  cfg.vLines.forEach(v => g.append('line').attr('x1', x(v)).attr('x2', x(v)).attr('y1', cfg.top).attr('y2', cfg.bottom)
    .attr('stroke', '#7fcf8f').attr('stroke-width', 1.3))
  g.append('line').attr('x1', cfg.left).attr('x2', cfg.right).attr('y1', y(cfg.hLine)).attr('y2', y(cfg.hLine))
    .attr('stroke', '#7fcf8f').attr('stroke-width', 1.3)

  const xAxis = d3.axisBottom(x).tickValues(cfg.xTicks).tickSize(3).tickPadding(7).tickFormat(d => Math.abs(d))
  const yAxis = d3.axisLeft(y).tickValues(cfg.yTicks).tickSize(4).tickPadding(6).tickFormat(d3.format('d'))
  const ax = g.append('g').attr('transform', `translate(0, ${cfg.bottom})`).call(xAxis)
  const ay = g.append('g').attr('transform', `translate(${cfg.left}, 0)`).call(yAxis)
  ;[ax, ay].forEach(a => {
    a.select('.domain').remove()
    a.selectAll('text').attr('font-size', 20).attr('font-family', '"Liberation Sans", Arial, sans-serif')
    a.selectAll('line').attr('stroke', '#333')
  })
  g.append('rect').attr('x', cfg.left).attr('y', cfg.top).attr('width', cfg.right - cfg.left).attr('height', cfg.bottom - cfg.top)
    .attr('fill', 'none').attr('stroke', '#222').attr('stroke-width', 1.4)

  cfg.title.forEach((t, i) => label(t, cfg.titleX, 575 + i * 24, 20.6))
  label('log2 (fold change)', cfg.xLabelX, 968, 20.1, { anchor: 'middle' })
  label('-log10', cfg.yLabelX, 752, 20, { anchor: 'middle', rotate: true })
}

volcano({
  left: 66, right: 337, top: 610, bottom: 912, xDomain: [-15.63, 15.63], yDomain: [-0.17, 9.63],
  xTicks: [-15, -10, -5, 0, 5, 10, 15], yTicks: [1, 2, 3, 4, 5, 6, 7, 8, 9], marker: 5,
  red: bRedPoints.concat(bRedExtra), grey: bGreyPoints, redBands: bRedBands, greyBands: bGreyBands,
  vLines: [-0.95, 0.98], hLine: 1.3, title: ['THP-1 macrophages', 'vs THP-1 monocytes'], titleX: 104, xLabelX: 209, yLabelX: 24
})
svg.append('line').attr('x1', 337).attr('x2', 337).attr('y1', 610).attr('y2', 912).attr('stroke', '#7b7373').attr('stroke-width', 3)

volcano({
  left: 470, right: 737, top: 609, bottom: 913, xDomain: [-6.27, 6.32], yDomain: [-0.19, 8.7],
  xTicks: [-6, -4, -2, 0, 2, 4, 6], yTicks: [1, 2, 3, 4, 5, 6, 7, 8], marker: 5.2,
  red: cRedPoints.concat(cRedExtra), grey: cGreyPoints, redBands: cRedBands, greyBands: cGreyBands,
  vLines: [-0.4, 0.41], hLine: 1.28, title: ['THP-1 macrophages + ADP', 'vs THP-1 monocytes'], titleX: 474, xLabelX: 610, yLabelX: 434
})

volcano({
  left: 857, right: 1139, top: 606, bottom: 910, xDomain: [-16.06, 15.8], yDomain: [-0.19, 6.67],
  xTicks: [-15, -10, -5, 0, 5, 10, 15], yTicks: [1, 2, 3, 4, 5, 6], marker: 6,
  red: dRedPoints, grey: dGreyPoints, redBands: dRedBands, greyBands: dGreyBands,
  vLines: [-2.53, 2.45], hLine: 1.285, title: ['THP-1 macrophages + ADP', 'vs THP-1 macrophages'], titleX: 873, xLabelX: 1008, yLabelX: 819
})

// ---- panel e
const ex = d3.scalePoint().domain(d3.range(sampleNames.length)).range([225.3, 1107.7])
const ey = d3.scaleLinear().domain([-15.05, 11.26]).range([1515, 1082])
const colour = d3.scaleLinear()
  .domain([-8, -6.5, -4, -2, 0, 1.2, 3, 5, 8])
  .range(['#3f4399', '#62648e', '#8f9350', '#c4c61e', '#f3e800', '#fcd800', '#f7a20e', '#ee5f10', '#e4261e'])
  .clamp(true)

const eg = svg.append('g')
eg.selectAll('.gx').data(d3.range(12)).join('line')
  .attr('x1', d => ex(d)).attr('x2', d => ex(d)).attr('y1', 1082).attr('y2', 1515).attr('stroke', '#d6d6d6').attr('stroke-width', 1.1)
eg.selectAll('.gy').data(yTicksE).join('line')
  .attr('x1', 218).attr('x2', 1116).attr('y1', d => ey(d)).attr('y2', d => ey(d)).attr('stroke', '#dcdcdc').attr('stroke-width', 1.4)

const bandArea = d3.area().x(d => ex(d[0])).y0(d => ey(d[1])).y1(d => ey(d[2]))
const line = d3.line().x((d, i) => ex(i)).y(d => ey(d))

// solid part of the monocyte block, a ribbon between two neighbouring levels
d3.pairs(denseLevels).forEach(([a, b], i) => {
  const rows = [[0, a, b], [1, a, b], [2, a, b], [3, a, b], [4, denseEnds[i], denseEnds[i + 1]]]
  eg.append('path').attr('d', bandArea(rows)).attr('fill', colour((a + b) / 2))
    .attr('stroke', colour((a + b) / 2)).attr('stroke-width', 0.4)
})

// middle and ADP bands
eg.append('path').attr('d', bandArea(tailMixBand)).attr('fill', '#84846a')
eg.append('path').attr('d', bandArea(tailUpperBand)).attr('fill', '#f8d000').attr('fill-opacity', 0.6)
eg.append('path').attr('d', bandArea(bandWarm)).attr('fill', '#f8b800')
eg.append('path').attr('d', bandArea(bandCool)).attr('fill', '#a9aa48')

function drawProfile(values, col, width) {
  eg.append('path').attr('d', line(values)).attr('fill', 'none')
    .attr('stroke', col).attr('stroke-width', width || 0.7).attr('stroke-linejoin', 'round')
}

blueLevels.forEach((v, i) => {
  const tail = coolRows[i % coolRows.length]
  drawProfile([v, v, v, v, ...tail], colour(v), 1.15)
})
speckleRows.forEach((r, i) => drawProfile([...r, ...coolRows[(i * 5) % coolRows.length]], i % 2 ? '#a9ab3c' : '#8d8f74', 0.7))
bottomRows.forEach((r, i) => drawProfile([...r, ...coolRows[(i * 5) % coolRows.length]], colour(r[3]), 0.7))
oliveRows.forEach((r, i) => {
  const l = oliveLevels[i]
  drawProfile([l, l, l, l, ...r], colour(l), 1)
})
wobbleRows.forEach(r => drawProfile(r, '#6e6f8e', 0.8))
spikeRows.forEach((r, i) => drawProfile([r[0] + 6, r[0] + 6, r[0] + 6, r[0] + 6, ...r], spikeColours[i], 0.7))
topRows.forEach((r, i) => drawProfile([...r, ...warmRows[14 + (i * 7) % 30].slice(1)], colour(r[3]), 0.7))
warmRows.forEach(r => drawProfile([r[0], r[0], r[0], r[0], ...r.slice(1)], colour(r[0]), 0.8))
yellowRows.forEach(r => drawProfile([0.4, 0.4, 0.4, 0.4, ...r], '#f6e000', 1))
eg.append('path').attr('d', bandArea(bandYellow)).attr('fill', '#f4e400')
eg.append('path').attr('d', bandArea(tailYellowBand)).attr('fill', '#f4e400')

// axes and frame for e
const eAxisY = d3.axisLeft(ey).tickValues(yTicksE).tickSize(4).tickPadding(1)
  .tickFormat(d => d === 0 ? '0' : `- ${Math.abs(d)}`)
const eAxisX = d3.axisBottom(ex).tickValues(d3.range(12)).tickSize(3).tickFormat('')
const ay = eg.append('g').attr('transform', 'translate(218, 0)').call(eAxisY)
const ax = eg.append('g').attr('transform', 'translate(0, 1515)').call(eAxisX)
;[ax, ay].forEach(a => {
  a.select('.domain').remove()
  a.selectAll('text').attr('font-size', 20).attr('font-family', '"Liberation Sans", Arial, sans-serif')
  a.selectAll('line').attr('stroke', '#333')
})
eg.append('rect').attr('x', 218).attr('y', 1082).attr('width', 898).attr('height', 433)
  .attr('fill', 'none').attr('stroke', '#222').attr('stroke-width', 1.4)
label('Normalized intensity values', 177, 1276, 21, { anchor: 'middle', rotate: true })

groupLabels.forEach(([txt, x0, x1, cx]) => {
  const stem = (x0 + x1) / 2
  eg.append('path').attr('d', `M${x0},1522 v8 q0,2 2,2 H${x1 - 2} q2,0 2,-2 v-8 M${stem},1532 v9`)
    .attr('fill', 'none').attr('stroke', '#222').attr('stroke-width', 1.6)
  label(txt, cx, 1567, 20.6, { anchor: 'middle' })
})
</script>
</body>
</html>
